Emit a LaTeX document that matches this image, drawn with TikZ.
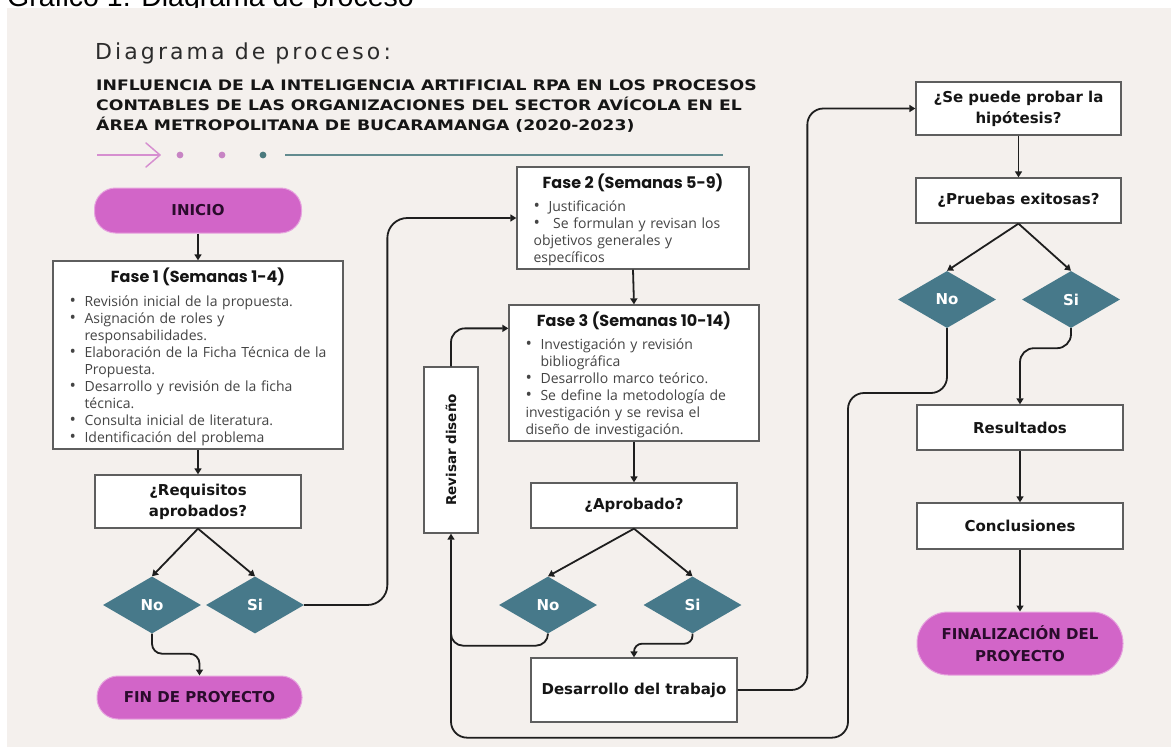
\documentclass[tikz,border=0pt]{standalone}
\usepackage{fontspec}
\setmainfont{Open Sans}
\newfontfamily\labfont{DejaVu Sans}
\newfontfamily\popfont{Poppins}
\newfontfamily\titfont[FakeStretch=1.19]{DejaVu Sans}
\newfontfamily\headfont[LetterSpace=14]{DejaVu Sans}
\newfontfamily\capfont{Liberation Sans}
\usetikzlibrary{shapes.geometric,arrows.meta,calc}
\definecolor{beige}{HTML}{F4F0ED}
\definecolor{pillc}{HTML}{D265C8}
\definecolor{pillb}{HTML}{E6A3DE}
\definecolor{pilltext}{HTML}{2A0C2C}
\definecolor{tealc}{HTML}{47798A}
\definecolor{boxc}{HTML}{5E5E5E}
\definecolor{linec}{HTML}{1E1E1E}
\definecolor{bodyc}{HTML}{444444}
\definecolor{labc}{HTML}{151515}
\definecolor{decopink}{HTML}{D68FD0}
\definecolor{dotpink}{HTML}{C784C4}
\definecolor{dotteal}{HTML}{4B7A7E}
\definecolor{decoline}{HTML}{628B8F}
\newcommand\bul[1]{\par\noindent\hangindent=15pt\hangafter=1\makebox[15pt][l]{\fontsize{17}{17}\selectfont\raisebox{-0.6pt}{\textbullet}}#1}
\tikzset{
  pbox/.style={draw=boxc, line width=1.3pt, fill=white, inner sep=0pt, align=center, text=labc,
    font=\labfont\bfseries\fontsize{15}{21}\selectfont},
  pill/.style={fill=pillc, draw=pillb, line width=1pt, inner sep=0pt, align=center, text=pilltext,
    font=\labfont\bfseries\fontsize{15}{22}\selectfont},
  dia/.style={diamond, aspect=1.75, minimum width=98pt, minimum height=57pt, inner sep=0pt,
    fill=tealc, text=white, font=\labfont\bfseries\fontsize{15}{18}\selectfont},
  fasetitle/.style={anchor=base, inner sep=0pt, text=labc, font=\popfont\bfseries\fontsize{16}{18}\selectfont},
  bullets/.style={anchor=base west, inner sep=0pt, text width=268pt, align=left, text=bodyc,
    font=\fontsize{14}{17}\selectfont},
  headline/.style={anchor=base west, inner sep=0pt, text=labc, font=\titfont\bfseries\fontsize{14.5}{20}\selectfont},
  conn/.style={draw=linec, line width=1.8pt, rounded corners=14pt},
  arr/.style={-{Triangle[length=6pt,width=7pt]}}
}
\begin{document}
\begin{tikzpicture}[x=1pt,y=-1pt]
\useasboundingbox (0,0) rectangle (1171,747);
\begin{scope}
\clip (0,0) rectangle (1171,747);
\fill[white] (0,0) rectangle (1171,747);
\node[anchor=base west, inner sep=0pt, font=\capfont\fontsize{28.5}{30}\selectfont] (cap) at (7,6) {Gráfico 1. Diagrama de proceso};
\fill[beige] (7,8) rectangle (1171,747);
\end{scope}

% header
\node[anchor=base west, inner sep=0pt, text=labc!90, font=\headfont\fontsize{22}{26}\selectfont] (hd) at (95,59) {Diagrama de proceso:};
\node[headline] (t1) at (96,90) {INFLUENCIA DE LA INTELIGENCIA ARTIFICIAL RPA EN LOS PROCESOS};
\node[headline] (t2) at (96,110) {CONTABLES DE LAS ORGANIZACIONES DEL SECTOR AVÍCOLA EN EL};
\node[headline] (t3) at (96,130) {ÁREA METROPOLITANA DE BUCARAMANGA (2020-2023)};

% decoration
\draw[decopink, line width=1.5pt] (97,155) -- (160,155);
\draw[decopink, line width=1.5pt, line join=round, line cap=round] (146,143) -- (160,155) -- (146,167);
\fill[dotpink] (180,155) circle (3.4pt);
\fill[dotpink] (222,155) circle (3.4pt);
\fill[dotteal] (263,155) circle (3.4pt);
\draw[decoline, line width=2pt] (285,155) -- (723,155);

% left column
\node[pill, minimum width=207pt, minimum height=45pt, rounded corners=21pt] (ini) at (198,210.5) {INICIO};
\node[pbox, minimum width=290pt, minimum height=188pt] (f1) at (198,355) {};
\node[fasetitle] (f1t) at ($(f1.north)+(0,22)$) {Fase 1 (Semanas 1-4)};
\node[bullets] (f1b) at ($(f1.north west)+(17,29)$) {%
\bul{Revisión inicial de la propuesta.}
\bul{Asignación de roles y\newline responsabilidades.}
\bul{Elaboración de la Ficha Técnica de la\newline Propuesta.}
\bul{Desarrollo y revisión de la ficha\newline técnica.}
\bul{Consulta inicial de literatura.}
\bul{Identificación del problema}};
\node[pbox, minimum width=206pt, minimum height=53pt] (req) at (198,501.5) {¿Requisitos\\aprobados?};
\node[dia] (noL) at (152,605) {No};
\node[dia] (siL) at (255,605) {Si};
\node[pill, minimum width=205pt, minimum height=43pt, rounded corners=21pt] (fin) at (199.5,697.5) {FIN DE PROYECTO};

% middle column
\node[pbox, minimum width=232pt, minimum height=102pt] (f2) at (633,218) {};
\node[fasetitle] (f2t) at ($(f2.north)+(0,22)$) {Fase 2 (Semanas 5-9)};
\node[bullets] (f2b) at ($(f2.north west)+(17,28)$) {%
\bul{Justificación}
\bul{\ Se formulan y revisan los\newline objetivos generales y\newline específicos}};
\node[pbox, minimum width=250pt, minimum height=136pt] (f3) at (634,373) {};
\node[fasetitle] (f3t) at ($(f3.north)+(0,22)$) {Fase 3 (Semanas 10-14)};
\node[bullets] (f3b) at ($(f3.north west)+(17,28)$) {%
\bul{Investigación y revisión\newline bibliográfica}
\bul{Desarrollo marco teórico.}
\bul{Se define la metodología de\newline investigación y se revisa el\newline diseño de investigación.}};
\node[pbox, minimum width=206pt, minimum height=45pt] (apr) at (634,505.5) {¿Aprobado?};
\node[dia] (noM) at (548,605) {No};
\node[dia] (siM) at (692.5,605) {Si};
\node[pbox, minimum width=206pt, minimum height=64pt] (des) at (634,690) {Desarrollo del trabajo};
\node[pbox, minimum width=54pt, minimum height=166pt] (rev) at (451,450)
  {\rotatebox{90}{\fontsize{13.5}{16}\selectfont Revisar diseño}};

% right column
\node[pbox, minimum width=205pt, minimum height=53pt] (sp) at (1018.5,108.5) {¿Se puede probar la\\hipótesis?};
\node[pbox, minimum width=205pt, minimum height=45pt] (pr) at (1018.5,200.5) {¿Pruebas exitosas?};
\node[dia] (noR) at (947,299.5) {No};
\node[dia] (siR) at (1071,299.5) {Si};
\node[pbox, minimum width=206pt, minimum height=45pt] (res) at (1020,427.5) {Resultados};
\node[pbox, minimum width=206pt, minimum height=46pt] (con) at (1020,526) {Conclusiones};
\node[pill, minimum width=206pt, minimum height=63pt, rounded corners=31pt] (fnl) at (1020,643.5) {FINALIZACIÓN DEL\\PROYECTO};

% connectors
\draw[conn,arr] (ini.south) -- (f1.north);
\draw[conn,arr] (f1.south) -- (req.north);
\draw[conn,arr] (req.south) -- (noL.north);
\draw[conn,arr] (req.south) -- (siL.north);
\draw[conn,arr,rounded corners=10pt] (noL.south) -- ++(0,20) -| (fin.north);
\draw[conn,arr,rounded corners=20pt] (siL.east) -| ($(f2.west)+(-129,0)$) -- (f2.west);
\draw[conn,arr] (f2.south) -- (f3.north);
\draw[conn,arr] (f3.south) -- (apr.north);
\draw[conn,arr] (apr.south) -- (noM.north);
\draw[conn,arr] (apr.south) -- (siM.north);
\draw[conn,arr,rounded corners=8pt] (siM.south) -- ++(0,10) -| (des.north);
\draw[conn,rounded corners=12pt] (noM.south) |- ($(rev.south)+(0,112)$) -- ($(rev.south)+(0,60)$);
\draw[conn,arr,rounded corners=14pt] (rev.north) |- ($(f3.north west)+(0,24)$);
\draw[conn,arr,rounded corners=16pt] (noR.south) |- (848,393) |- ($(rev.south)+(0,204)$) -- (rev.south);
\draw[conn,arr,rounded corners=16pt] (des.east) -| ($(sp.west)+(-108,0)$) -- (sp.west);
\draw[conn,arr] (sp.south) -- (pr.north);
\draw[conn,arr] (pr.south) -- (noR.north);
\draw[conn,arr] (pr.south) -- (siR.north);
\draw[conn,arr,rounded corners=14pt] (siR.south) -- ++(0,20) -| (res.north);
\draw[conn,arr] (res.south) -- (con.north);
\draw[conn,arr] (con.south) -- (fnl.north);
\end{tikzpicture}
\end{document}
